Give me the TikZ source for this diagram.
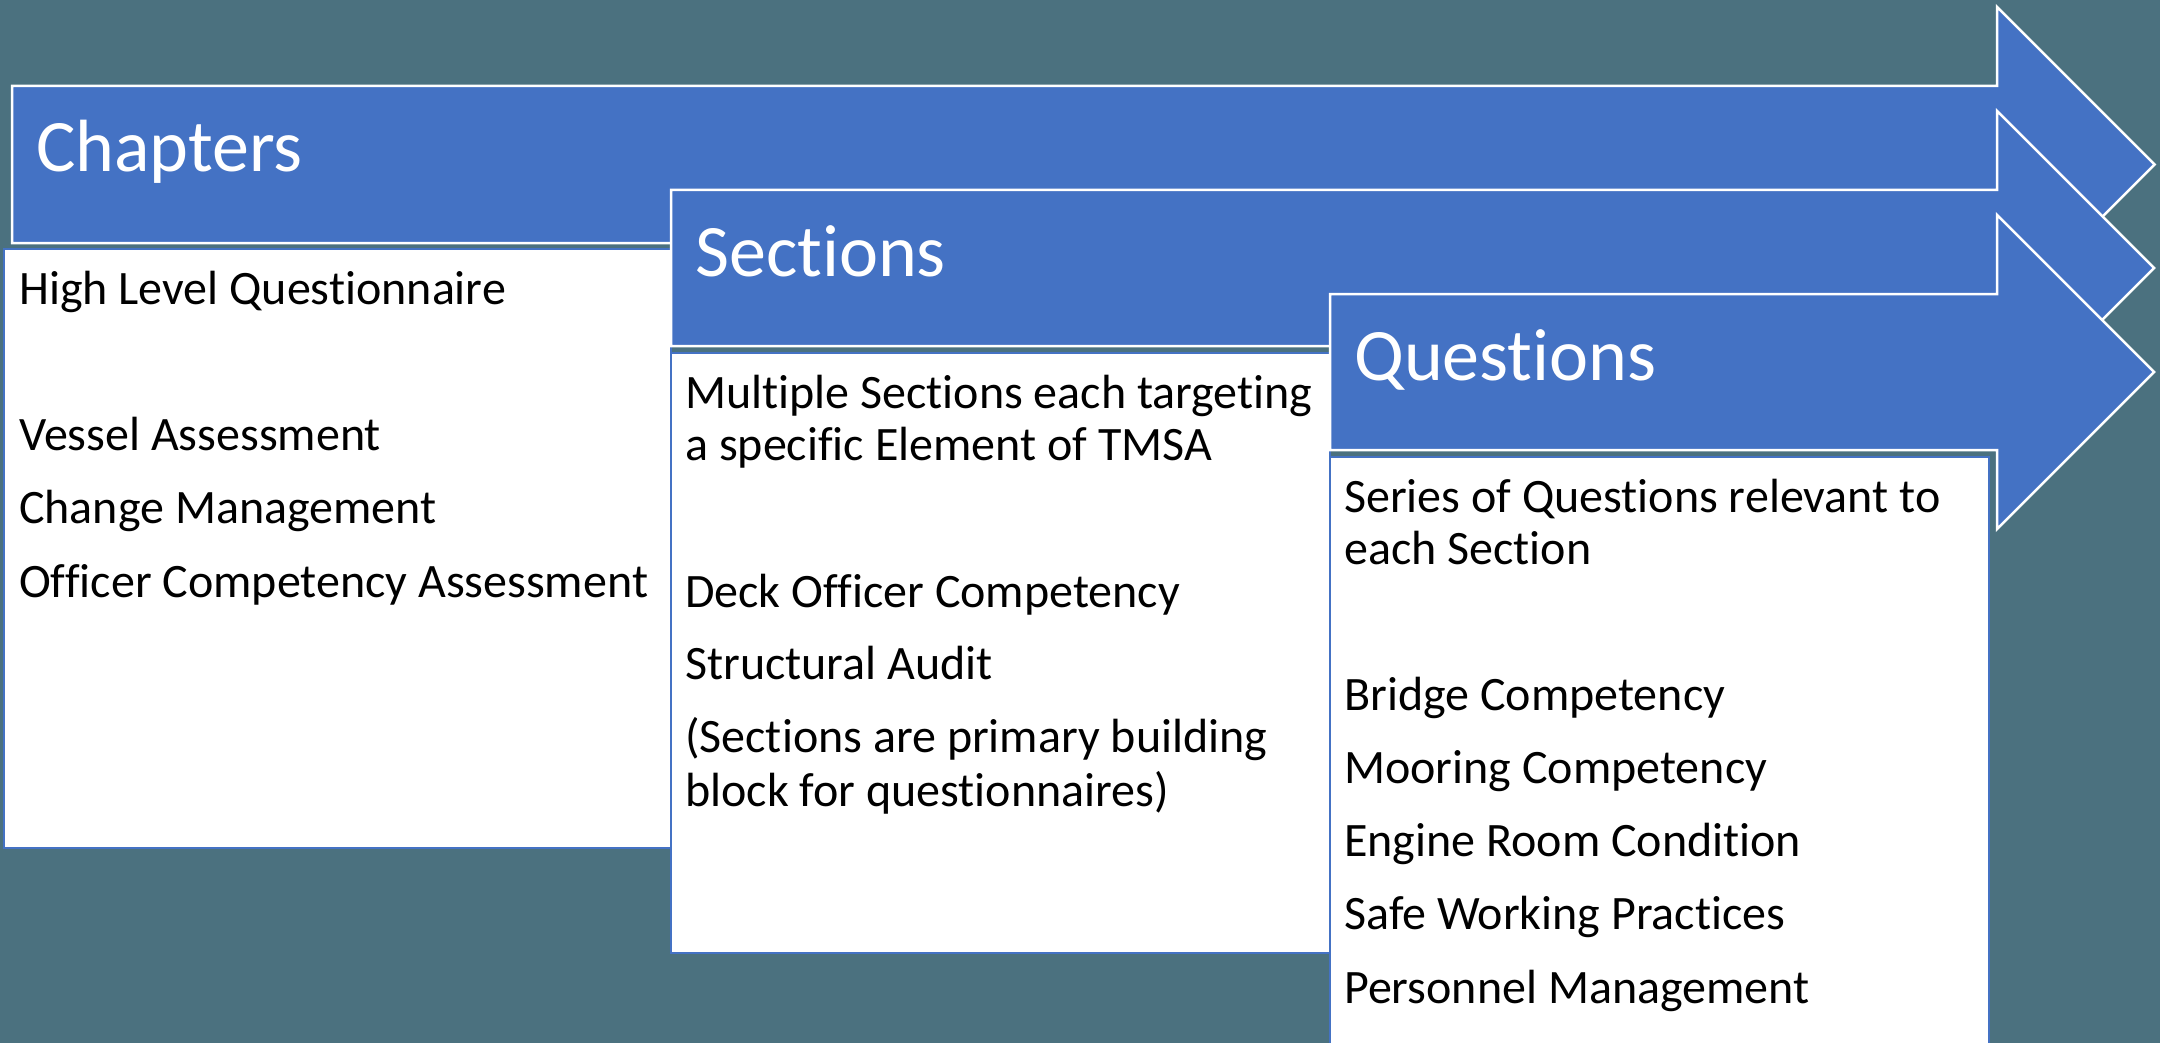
\documentclass[tikz,border=0pt]{standalone}
\usepackage{fontspec}
\setmainfont{Carlito}[Ligatures={NoCommon,NoRare,NoContextual}]
\definecolor{bg}{RGB}{75,113,127}
\definecolor{arrowblue}{RGB}{68,114,196}
\tikzset{
  bigarrow/.style={fill=arrowblue, draw=white, line width=2.5pt, line join=miter},
  listbox/.style={fill=white, draw=arrowblue, line width=2.5pt},
  headtext/.style={font=\fontsize{74}{80}\selectfont, text=white, anchor=base west, inner sep=0pt},
  bodytext/.style={font=\fontsize{48}{53}\selectfont, text=black, anchor=base west, inner sep=0pt}
}
\begin{document}
\begin{tikzpicture}[x=1pt,y=-1pt]
\path[use as bounding box, fill=bg] (0,0) rectangle (2160,1043);
\clip (0,0) rectangle (2160,1043);
% Arrow 1
\draw[bigarrow] (12,86) -- (1997,86) -- (1997,7) -- (2154.5,164.5) -- (1997,322) -- (1997,243) -- (12,243) -- cycle;
\draw[listbox] (4,249) rectangle (671,848);
% Arrow 2
\draw[bigarrow] (671,190) -- (1997,190) -- (1997,111) -- (2154,268) -- (1997,425) -- (1997,346) -- (671,346) -- cycle;
\draw[listbox] (671,353) rectangle (1330,953);
% Arrow 3
\draw[bigarrow] (1330,294) -- (1997,294) -- (1997,215) -- (2154,372) -- (1997,529) -- (1997,450) -- (1330,450) -- cycle;
\draw[listbox] (1330,457) rectangle (1989,1060);
% Titles
\node[headtext] (tch) at (36,172) {Chapters};
\node[headtext] (tse) at (695,276) {Sections};
\node[headtext] (tqu) at (1354,380) {Questions};
% Box 1 text
\node[bodytext] (c1) at (19,304) {High Level Questionnaire};
\node[bodytext] (c2) at (19,450) {Vessel Assessment};
\node[bodytext] (c3) at (19,523) {Change Management};
\node[bodytext] (c4) at (19,597) {Officer Competency Assessment};
% Box 2 text
\node[bodytext] (s1) at (685,408) {Multiple Sections each targeting};
\node[bodytext] (s2) at (685,460) {a specific Element of TMSA};
\node[bodytext] (s3) at (685,607) {Deck Officer Competency};
\node[bodytext] (s4) at (685,679) {Structural Audit};
\node[bodytext] (s5) at (685,752) {(Sections are primary building};
\node[bodytext] (s6) at (685,806) {block for questionnaires)};
% Box 3 text
\node[bodytext] (q1) at (1344,512) {Series of Questions relevant to};
\node[bodytext] (q2) at (1344,564) {each Section};
\node[bodytext] (q3) at (1344,710) {Bridge Competency};
\node[bodytext] (q4) at (1344,783) {Mooring Competency};
\node[bodytext] (q5) at (1344,856) {Engine Room Condition};
\node[bodytext] (q6) at (1344,929) {Safe Working Practices};
\node[bodytext] (q7) at (1344,1003) {Personnel Management};
\end{tikzpicture}
\end{document}
